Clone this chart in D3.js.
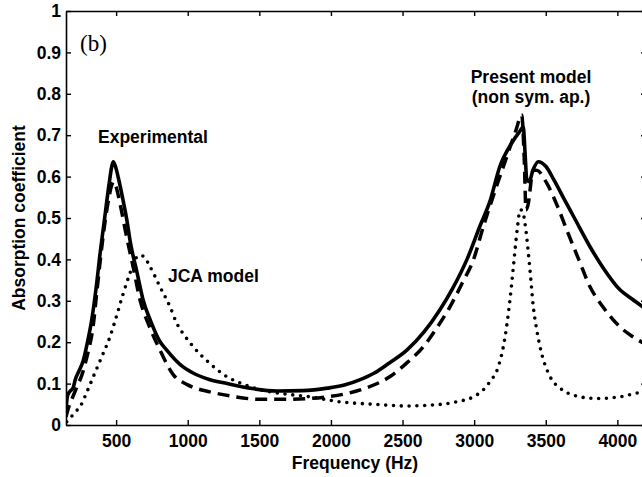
<!DOCTYPE html>
<html>
<head>
<meta charset="utf-8">
<script src="https://cdn.jsdelivr.net/npm/d3@7"></script>
<style>
html,body{margin:0;padding:0;background:#fff;overflow:hidden;}
svg{display:block;}
text{font-family:"Liberation Sans",Arial,Helvetica,sans-serif;font-weight:bold;fill:#000;}
</style>
</head>
<body>
<svg id="chart" width="642" height="477"></svg>
<script>
// ---- data ----
const xTicks = [500, 1000, 1500, 2000, 2500, 3000, 3500, 4000];
const yTicks = [0, 0.1, 0.2, 0.3, 0.4, 0.5, 0.6, 0.7, 0.8, 0.9, 1];
const yTickLabels = ["0", "0.1", "0.2", "0.3", "0.4", "0.5", "0.6", "0.7", "0.8", "0.9", "1"];

// Experimental (solid)
const expFreq = [150,160,175,200,215,240,270,300,330,360,390,420,450,470,480,495,520,550,575,600,645,690,740,800,855,950,1040,1150,1275,1450,1625,1800,1975,2100,2200,2300,2400,2530,2650,2760,2850,2950,3040,3110,3180,3260,3320,3343,3355,3367,3385,3410,3448,3500,3560,3620,3700,3810,3900,4020,4100,4200];
const expAlpha = [0.035,0.07,0.08,0.09,0.11,0.13,0.155,0.2,0.255,0.33,0.42,0.5,0.58,0.625,0.636,0.625,0.59,0.54,0.495,0.44,0.37,0.3,0.252,0.205,0.18,0.145,0.125,0.11,0.1,0.088,0.082,0.083,0.089,0.097,0.109,0.125,0.148,0.181,0.225,0.278,0.33,0.4,0.48,0.54,0.625,0.68,0.71,0.72,0.66,0.595,0.588,0.615,0.636,0.625,0.59,0.551,0.5,0.43,0.38,0.326,0.305,0.28];

// Present model, non symmetric aperture (dashed)
const presFreq = [150,175,200,230,260,300,340,365,400,440,470,482,500,530,570,620,667,730,806,900,1000,1155,1300,1505,1700,1970,2110,2250,2413,2530,2645,2740,2832,2920,2995,3064,3140,3220,3290,3332,3350,3362,3375,3413,3440,3507,3580,3647,3730,3809,3900,4018,4100,4200];
const presAlpha = [0.02,0.05,0.07,0.095,0.12,0.17,0.24,0.32,0.43,0.53,0.58,0.588,0.575,0.53,0.46,0.38,0.302,0.24,0.181,0.121,0.097,0.08,0.07,0.062,0.062,0.068,0.076,0.09,0.117,0.15,0.189,0.235,0.286,0.345,0.399,0.479,0.56,0.64,0.71,0.749,0.64,0.52,0.53,0.616,0.615,0.584,0.53,0.471,0.4,0.334,0.285,0.237,0.215,0.195];

// JCA model (dotted)
const jcaFreq = [155,178,210,248,290,341,400,457,500,550,600,632,667,700,725,770,806,876,923,980,1039,1150,1272,1400,1505,1680,1854,2063,2300,2529,2700,2878,2994,3064,3111,3169,3216,3246,3274,3300,3322,3340,3355,3390,3413,3437,3460,3530,3600,3693,3856,4018,4135,4200];
const jcaAlpha = [0.008,0.016,0.03,0.044,0.075,0.117,0.165,0.213,0.26,0.318,0.37,0.4,0.41,0.405,0.39,0.36,0.334,0.286,0.246,0.215,0.189,0.15,0.117,0.097,0.085,0.075,0.068,0.056,0.05,0.046,0.048,0.056,0.068,0.085,0.105,0.141,0.213,0.29,0.382,0.47,0.52,0.515,0.487,0.374,0.286,0.23,0.189,0.117,0.089,0.072,0.064,0.068,0.077,0.08];

// ---- drawing ----
const svg = d3.select("#chart");
const pL = 66, pR = 646, pT = 11, pB = 425;
const x = d3.scaleLinear().domain([150, 4200]).range([pL, pR]);
const y = d3.scaleLinear().domain([0, 1]).range([pB, pT]);

svg.append("defs").append("clipPath").attr("id", "clip")
  .append("rect").attr("x", pL).attr("y", pT).attr("width", pR - pL).attr("height", pB - pT);

const plot = svg.append("g").attr("clip-path", "url(#clip)");

function series(fr, al) { return fr.map((f, i) => [f, al[i]]); }
const line = d3.line().x(d => x(d[0])).y(d => y(d[1])).curve(d3.curveMonotoneX);

plot.append("path").datum(series(jcaFreq, jcaAlpha))
  .attr("d", line).attr("fill", "none").attr("stroke", "#000")
  .attr("stroke-width", 3.6).attr("stroke-linecap", "round").attr("stroke-dasharray", "0 7.8");

plot.append("path").datum(series(presFreq, presAlpha))
  .attr("d", line).attr("fill", "none").attr("stroke", "#000")
  .attr("stroke-width", 3.5).attr("stroke-dasharray", "12 7");

plot.append("path").datum(series(expFreq, expAlpha))
  .attr("d", line).attr("fill", "none").attr("stroke", "#000")
  .attr("stroke-width", 3.6).attr("stroke-linejoin", "round");

// axes (ticks pointing inward on all four sides)
const FS = 17.5;
const axB = d3.axisBottom(x).tickValues(xTicks).tickSizeInner(-5).tickSizeOuter(0).tickPadding(9.5).tickFormat(d3.format("d"));
const axT = d3.axisTop(x).tickValues(xTicks).tickSizeInner(-5).tickSizeOuter(0).tickFormat("");
const axL = d3.axisLeft(y).tickValues(yTicks).tickSizeInner(-5).tickSizeOuter(0).tickPadding(5).tickFormat((d, i) => yTickLabels[i]);
const axR = d3.axisRight(y).tickValues(yTicks).tickSizeInner(-5).tickSizeOuter(0).tickFormat("");

function style(g) {
  g.select(".domain").attr("stroke", "#000").attr("stroke-width", 1.6);
  g.selectAll(".tick line").attr("stroke", "#000").attr("stroke-width", 1.4);
  g.selectAll("text").attr("font-size", FS).attr("font-family", "Liberation Sans, Arial, sans-serif").attr("font-weight", "bold").attr("fill", "#000");
}
svg.append("g").attr("transform", `translate(0,${pB})`).call(axB).call(style);
svg.append("g").attr("transform", `translate(0,${pT})`).call(axT).call(style);
svg.append("g").attr("transform", `translate(${pL},0)`).call(axL).call(style);
svg.append("g").attr("transform", `translate(${pR},0)`).call(axR).call(style);

// labels
svg.append("text").attr("x", 355).attr("y", 469)
  .attr("text-anchor", "middle").attr("font-size", FS).text("Frequency (Hz)");
svg.append("text").attr("transform", "translate(25,218) rotate(-90)")
  .attr("text-anchor", "middle").attr("font-size", FS).text("Absorption coefficient");

svg.append("text").attr("x", 80).attr("y", 51).attr("font-size", 23)
  .style("font-family", "'Liberation Serif','Times New Roman',serif").style("font-weight", "normal").text("(b)");
svg.append("text").attr("x", 98).attr("y", 143).attr("font-size", FS).text("Experimental");
svg.append("text").attr("x", 168).attr("y", 282).attr("font-size", FS).text("JCA model");
svg.append("text").attr("x", 531).attr("y", 83).attr("text-anchor", "middle").attr("font-size", FS).text("Present model");
svg.append("text").attr("x", 531).attr("y", 103).attr("text-anchor", "middle").attr("font-size", FS).text("(non sym. ap.)");
</script>
</body>
</html>
